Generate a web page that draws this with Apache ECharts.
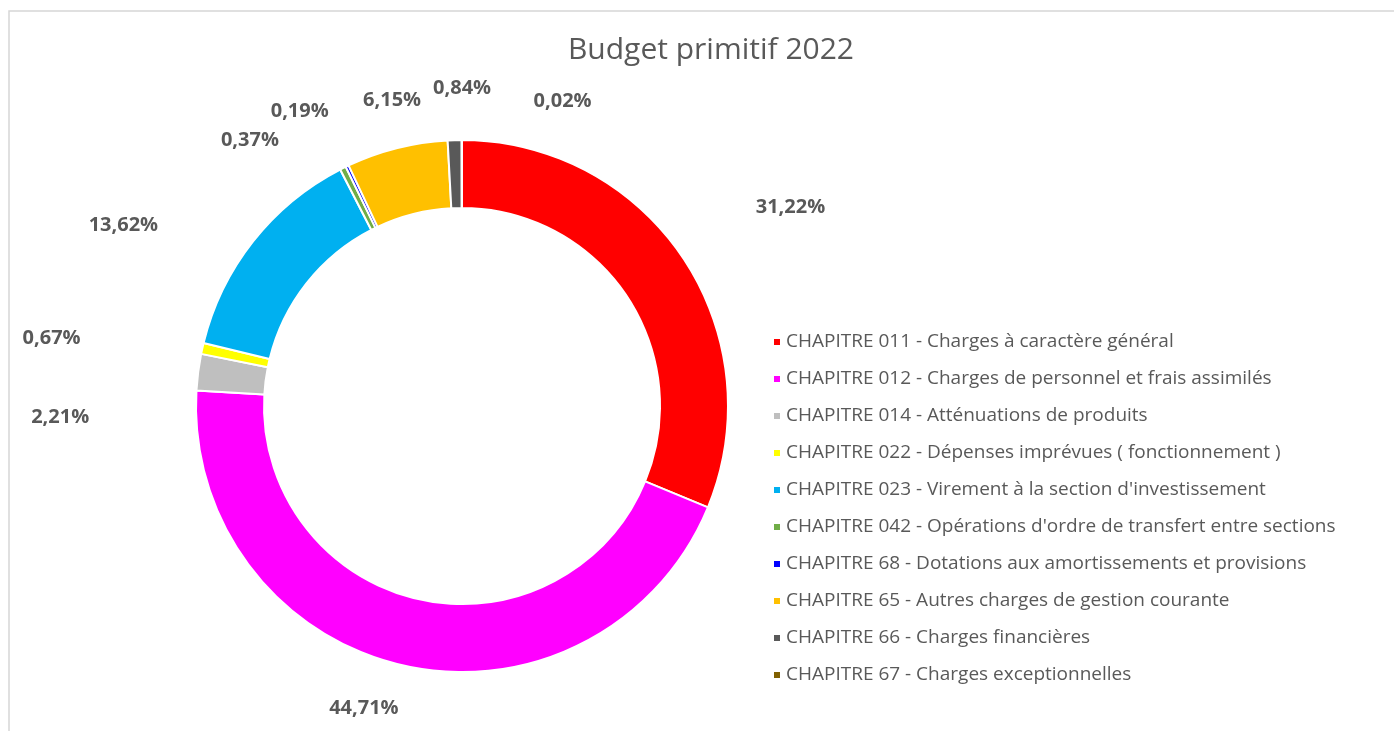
<!DOCTYPE html>
<html>
<head>
<meta charset="utf-8">
<title>Budget primitif 2022</title>
<script src="https://cdn.jsdelivr.net/npm/echarts@6/dist/echarts.min.js"></script>
<style>
  html, body { margin: 0; padding: 0; background: #ffffff; }
  #chart { width: 1394px; height: 731px; }
</style>
</head>
<body>
<div id="chart"></div>
<script>
// Budget chapters (shares of the 2022 operating budget, in %)
const chapters = [
  'CHAPITRE 011 - Charges à caractère général',
  'CHAPITRE 012 - Charges de personnel et frais assimilés',
  'CHAPITRE 014 - Atténuations de produits',
  'CHAPITRE 022 - Dépenses imprévues ( fonctionnement )',
  'CHAPITRE 023 - Virement à la section d\'investissement',
  'CHAPITRE 042 - Opérations d\'ordre de transfert entre sections',
  'CHAPITRE 68 - Dotations aux amortissements et provisions',
  'CHAPITRE 65 - Autres charges de gestion courante',
  'CHAPITRE 66 - Charges financières',
  'CHAPITRE 67 - Charges exceptionnelles'
];
const shares = [31.22, 44.71, 2.21, 0.67, 13.62, 0.37, 0.19, 6.15, 0.84, 0.02];
const colors = ['#FF0000', '#FF00FF', '#BFBFBF', '#FFFF00', '#00B0F0',
                '#70AD47', '#0000FF', '#FFC000', '#595959', '#806000'];

const CX = 462, CY = 406;
const FONT = '"Open Sans", Lato, sans-serif';
// per-label placement: angular nudge (deg) from slice middle, distance from centre
const labelPlacement = [
  [2.6, 384], [5.1, 318], [-8.9, 402], [-3.1, 416], [-10.1, 384],
  [-12.0, 340], [-3.3, 336], [1.3, 314], [1.6, 318], [18.3, 321]
];

const total = shares.reduce((a, b) => a + b, 0);
const midAngles = [];
let acc = 0;
shares.forEach(v => { midAngles.push((acc + v / 2) / total * 360); acc += v; });

const fmt = v => v.toFixed(2).replace('.', ',') + '%';

const chart = echarts.init(document.getElementById('chart'));
chart.setOption({
  animation: false,
  textStyle: { fontFamily: FONT },
  title: {
    text: 'Budget primitif 2022',
    left: 706, top: 30, textAlign: 'center',
    textStyle: { fontFamily: FONT, fontSize: 30, fontWeight: 'normal', color: '#595959' }
  },
  graphic: [{
    type: 'rect', silent: true, z: -1,
    shape: { x: 9, y: 11, width: 1420, height: 760 },
    style: { fill: 'none', stroke: '#d6d6d6', lineWidth: 1.5 }
  }],
  legend: {
    orient: 'vertical', left: 767, top: 327,
    icon: 'rect', itemWidth: 8, itemHeight: 8, itemGap: 17,
    textStyle: { fontFamily: FONT, fontSize: 19, color: '#595959', lineHeight: 20, padding: [0, 0, 0, 0] },
    data: chapters
  },
  series: [{
    type: 'pie',
    center: [CX, CY],
    radius: [198, 266],
    startAngle: 90,
    clockwise: true,
    avoidLabelOverlap: false,
    itemStyle: { borderColor: '#ffffff', borderWidth: 2 },
    label: {
      show: true, position: 'outside',
      formatter: p => fmt(p.value),
      fontFamily: FONT, fontSize: 20, fontWeight: 'bold', color: '#595959'
    },
    labelLine: { show: false },
    labelLayout: params => {
      const i = params.dataIndex;
      const a = (midAngles[i] + labelPlacement[i][0]) * Math.PI / 180;
      const r = labelPlacement[i][1];
      return { x: CX + r * Math.sin(a), y: CY - r * Math.cos(a), align: 'center', verticalAlign: 'middle' };
    },
    data: chapters.map((name, i) => ({ name, value: shares[i], itemStyle: { color: colors[i] } }))
  }]
});
</script>
</body>
</html>
